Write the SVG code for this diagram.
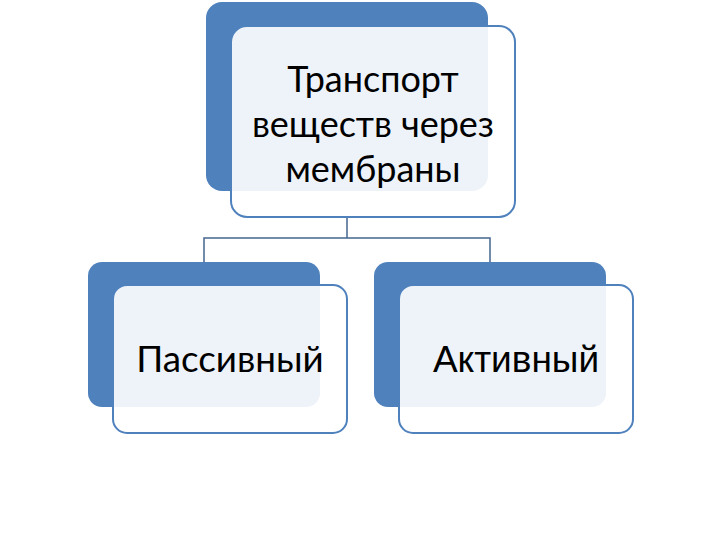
<svg xmlns="http://www.w3.org/2000/svg" width="720" height="540" viewBox="0 0 720 540">
<style>
.back{fill:#4F81BD}
.front{fill:#FFFFFF;fill-opacity:0.9;stroke:#4F81BD;stroke-width:2}
.conn{fill:none;stroke:#44668F;stroke-width:1.5}
.t{fill:#000;text-anchor:middle}
.cal{font-family:Lato,"Open Sans",sans-serif}
.ari{font-family:"Liberation Sans",Arial,sans-serif}
</style>
<rect width="720" height="540" fill="#FFFFFF"/>
<g id="connectors">
<path class="conn" d="M347,218 V238 M204,262 V238 H490 V262"/>
</g>
<g id="node-top">
<rect class="back" x="206" y="2" width="282" height="189" rx="16"/>
<rect class="front" x="231" y="26" width="284" height="191" rx="16"/>
<text class="t cal" font-size="36" x="373"><tspan x="373" y="92">Транспорт</tspan><tspan x="373" y="137">веществ через</tspan><tspan x="373" y="182">мембраны</tspan></text>
</g>
<g id="node-passive">
<rect class="back" x="88" y="262" width="232" height="145" rx="14"/>
<rect class="front" x="113" y="285" width="234" height="148" rx="14"/>
<text class="t cal" font-size="36.8" x="230" y="372">Пассивный</text>
</g>
<g id="node-active">
<rect class="back" x="374" y="262" width="232" height="145" rx="14"/>
<rect class="front" x="399" y="285" width="234" height="148" rx="14"/>
<text class="t ari" font-size="37" x="516" y="372">Активный</text>
</g>
</svg>
